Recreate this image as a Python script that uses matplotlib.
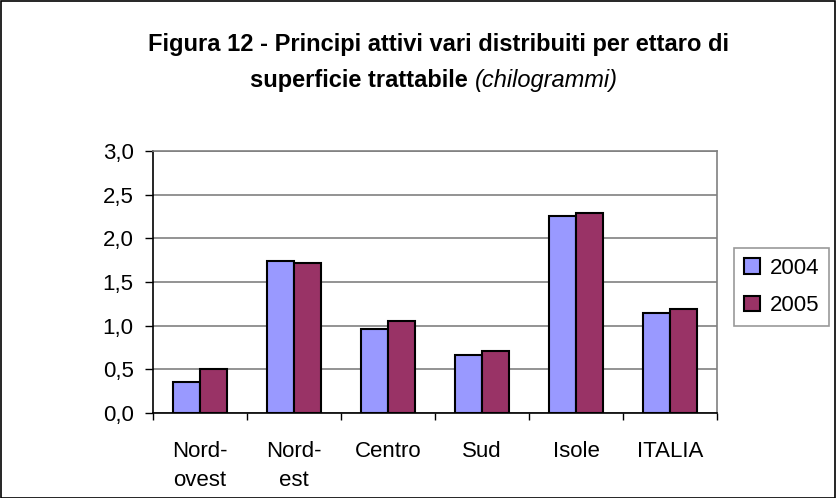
import matplotlib
matplotlib.use("Agg")
import matplotlib.pyplot as plt
import numpy as np
from matplotlib.patches import Rectangle

categories = ["Nord-\novest", "Nord-\nest", "Centro", "Sud", "Isole", "ITALIA"]
v2004 = [0.35, 1.74, 0.96, 0.66, 2.25, 1.15]
v2005 = [0.50, 1.72, 1.05, 0.71, 2.29, 1.19]
series_names = ["2004", "2005"]
yticks = [0.0, 0.5, 1.0, 1.5, 2.0, 2.5, 3.0]
ytick_labels = ["0,0", "0,5", "1,0", "1,5", "2,0", "2,5", "3,0"]

plt.rcParams['font.family'] = ['Liberation Sans', 'DejaVu Sans']
W, H = 836, 498
fig = plt.figure(figsize=(W/100, H/100), dpi=100)
ax = fig.add_axes([153/W, 1-413/H, (717-153)/W, (413-151)/H])

x = np.arange(len(categories))
bw = 0.29
ax.bar(x - bw/2, v2004, bw, color="#9999FF", edgecolor="black", linewidth=1.5, label=series_names[0], zorder=3)
ax.bar(x + bw/2, v2005, bw, color="#993366", edgecolor="black", linewidth=1.5, label=series_names[1], zorder=3)

ax.set_xlim(-0.5, len(categories)-0.5)
ax.set_ylim(0, 3.0)
ax.set_yticks(yticks)
ax.set_yticklabels(ytick_labels, fontsize=16)
ax.yaxis.grid(True, color="#808080", linewidth=1.2, zorder=0)
ax.set_axisbelow(True)

ax.set_xticks(x)
ax.set_xticklabels(categories, fontsize=16, linespacing=1.45)
ax.tick_params(axis='x', length=0, pad=20.5)
ax.set_xticks(np.arange(-0.5, len(categories)), minor=True)
ax.tick_params(axis='x', which='minor', length=5, width=1, color='black', direction='out')
ax.tick_params(axis='y', length=6, width=1, direction='out', pad=8, colors='black')

for s in ['left', 'bottom']:
    ax.spines[s].set_color('black')
    ax.spines[s].set_linewidth(1.2)
for s in ['top', 'right']:
    ax.spines[s].set_color('#808080')
    ax.spines[s].set_linewidth(1.2)

leg = ax.legend(loc='center left', bbox_to_anchor=(734/W, 1-287/H), bbox_transform=fig.transFigure,
                fontsize=16, frameon=True, fancybox=False, edgecolor='#808080',
                handlelength=0.7, handleheight=0.7, handletextpad=0.45, labelspacing=0.75,
                borderpad=0.45, borderaxespad=0)
leg.get_frame().set_linewidth(1.2)
for h in leg.legend_handles:
    h.set_linewidth(1.5)

fig.text(438/W, 1-44/H, "Figura 12 - Principi attivi vari distribuiti per ettaro di",
         ha='center', va='center', fontsize=17, fontweight='bold')
t1 = fig.text(0, 0, "superficie trattabile ", fontsize=17, fontweight='bold')
t2 = fig.text(0, 0, "(chilogrammi)", fontsize=17, fontstyle='italic')
fig.canvas.draw()
r = fig.canvas.get_renderer()
w1 = t1.get_window_extent(r).width
w2 = t2.get_window_extent(r).width
start = 434 - (w1 + w2)/2
y2 = 1 - 80/H
t1.set_position((start/W, y2)); t1.set_va('center')
t2.set_position(((start + w1)/W, y2)); t2.set_va('center')

fig.add_artist(Rectangle((0.5/W, 0.5/H), 1-1.5/W, 1-1.5/H, transform=fig.transFigure,
                         fill=False, edgecolor='black', linewidth=1.2))

fig.savefig("out.png", dpi=100)
